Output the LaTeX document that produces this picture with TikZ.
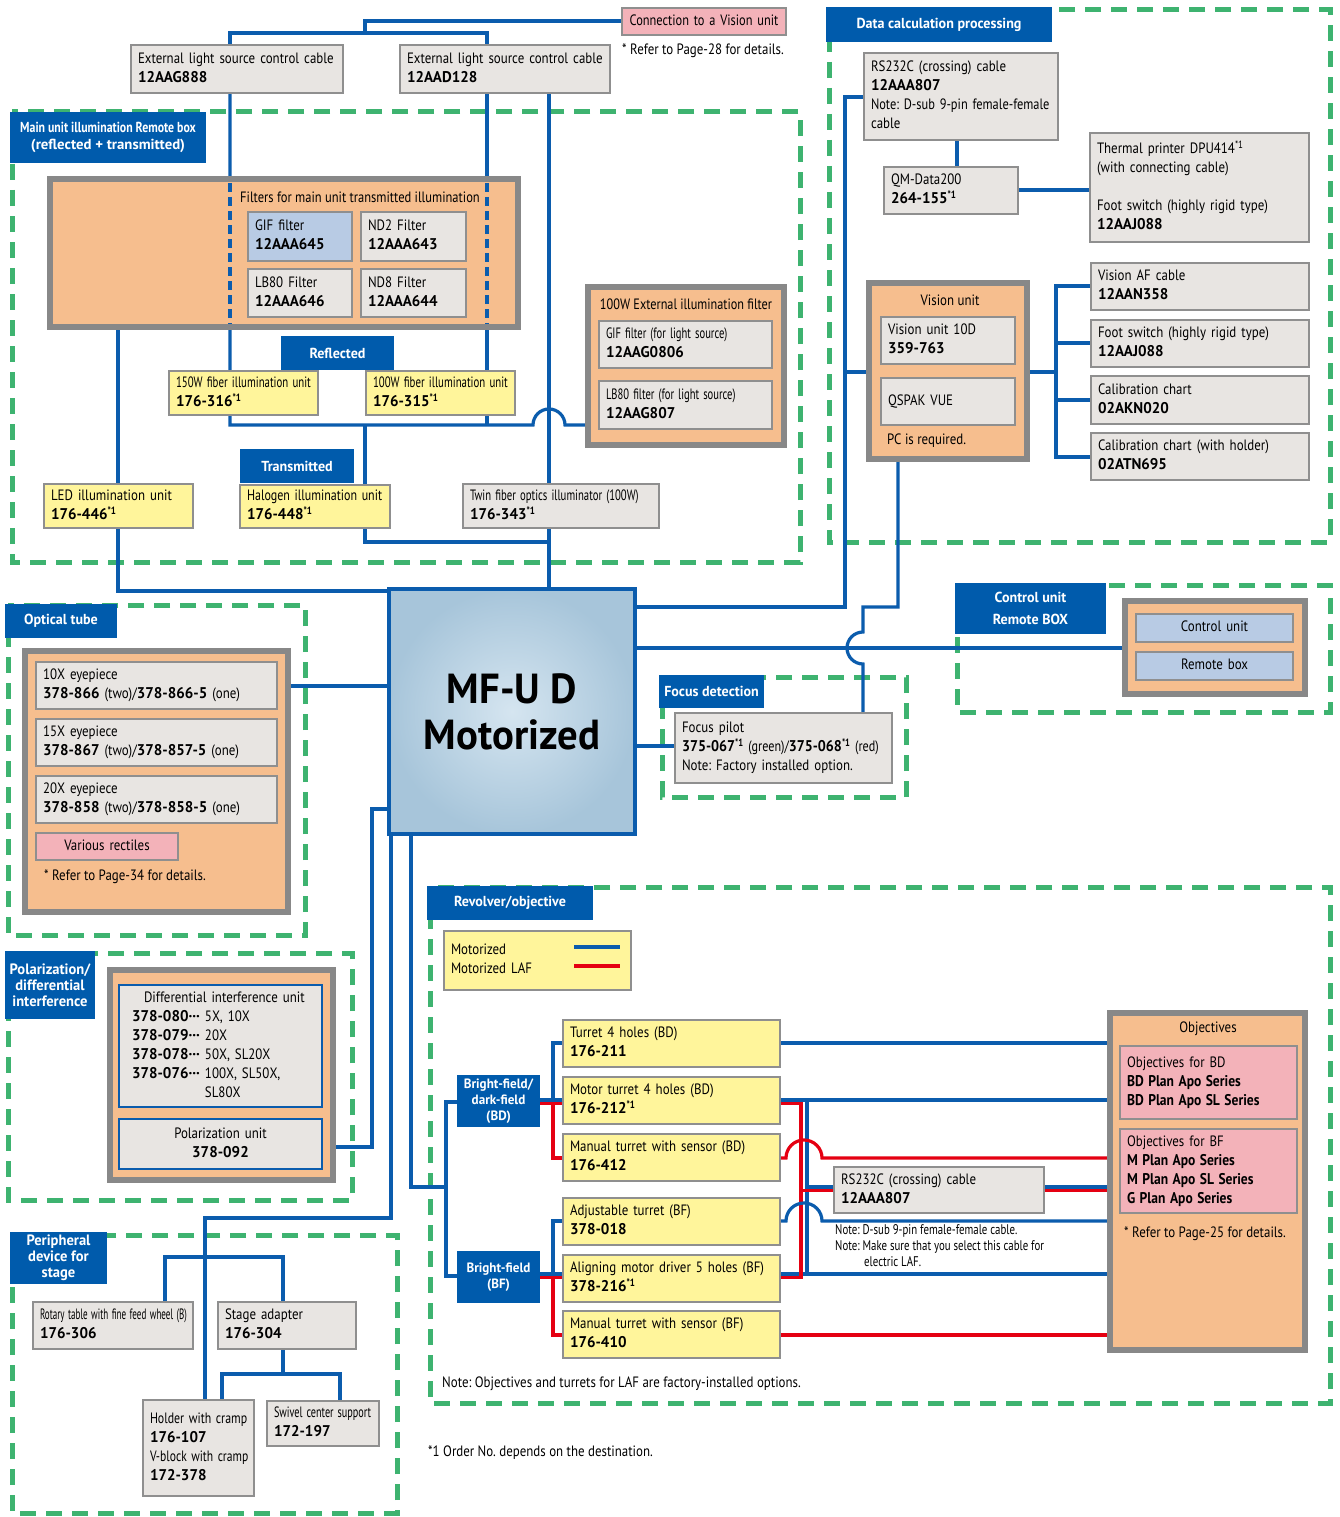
\documentclass[tikz,border=0pt]{standalone}
\usepackage{fontspec}
\usepackage{graphicx}
\setmainfont{PT Sans}[FakeStretch=0.86]
\newfontfamily\numfont{PT Sans}[FakeStretch=0.97]
\definecolor{blu}{HTML}{0B5CAD}
\definecolor{tblu}{HTML}{005BAC}
\definecolor{grn}{HTML}{3EB370}
\definecolor{gfill}{HTML}{E8E5E2}
\definecolor{gbord}{HTML}{8F8F8F}
\definecolor{yfill}{HTML}{FFF59B}
\definecolor{ofill}{HTML}{F6BE8E}
\definecolor{obord}{HTML}{888888}
\definecolor{pfill}{HTML}{F3B2B9}
\definecolor{lbfill}{HTML}{B8CBE4}
\definecolor{rd}{HTML}{E50012}
\definecolor{mainin}{HTML}{D5E5F0}
\definecolor{mainout}{HTML}{A7C5DA}
\newcommand\B[1]{{\fontsize{15.5}{19}\selectfont\numfont\bfseries #1}}
\newcommand\sone{\textsuperscript{\bfseries *1}}
\newcommand\mkbox[7]{%
  \pgfmathsetmacro\mkw{#5-#3}%
  \pgfmathsetmacro\mkh{#6-#4}%
  \pgfmathsetmacro\mkt{#5-#3-14}%
  \node[anchor=north west,minimum width=\mkw pt,minimum height=\mkh pt,
        text width=\mkt pt,inner xsep=7pt,inner ysep=0pt,outer sep=0pt,
        align=left,#2] (#1) at (#3,-#4) {\begin{tabular}{@{}l@{}}#7\end{tabular}};}
\newcommand\mktitle[7]{%
  \pgfmathsetmacro\mkw{#5-#3}%
  \pgfmathsetmacro\mkh{#6-#4}%
  \node[ttl,anchor=north west,minimum width=\mkw pt,minimum height=\mkh pt,
        inner sep=0pt,outer sep=0pt,#2] (#1) at (#3,-#4) {#7};}
\tikzset{
  region/.style={draw=grn,line width=5pt,dash pattern=on 16pt off 10pt},
  ttl/.style={fill=tblu,draw=none,text=white,align=center,
      font=\fontsize{14.5}{16.5}\selectfont\numfont\bfseries},
  gb/.style={fill=gfill,draw=gbord,line width=2pt},
  yb/.style={fill=yfill,draw=gbord,line width=2pt},
  pb/.style={fill=pfill,draw=gbord,line width=2pt},
  lb/.style={fill=lbfill,draw=gbord,line width=2pt},
  ob/.style={fill=ofill,draw=obord,line width=6pt},
  db/.style={fill=gfill,draw=blu,line width=2.5pt},
  wire/.style={draw=blu,line width=3.2pt},
  rwire/.style={draw=rd,line width=3.2pt},
  fdash/.style={draw=blu,line width=3.2pt,dash pattern=on 9pt off 5pt},
  lbl/.style={inner sep=0pt,anchor=west},
}
\begin{document}
\frenchspacing
\begin{tikzpicture}[x=1pt,y=1pt,every node/.style={font=\fontsize{15}{19}\selectfont}]
\useasboundingbox (0,0) rectangle (1340,-1517);
\fill[white] (0,0) rectangle (1340,-1517);

% ---------- regions
\draw[region] (12,-112) rectangle (800,-562);
\draw[region] (829,-10) rectangle (1330,-542);
\draw[region] (957,-585) rectangle (1330,-712);
\draw[region] (662,-677) rectangle (906,-797);
\draw[region] (8,-605) rectangle (305,-935);
\draw[region] (8,-953) rectangle (352,-1200);
\draw[region] (12,-1235) rectangle (397,-1513);
\draw[region] (430,-887) rectangle (1330,-1403);

% ---------- wires
\draw[wire] (230,-45) -- (230,-33) -- (487,-33) -- (487,-45);
\draw[wire] (365,-33) -- (365,-21) -- (622,-21);
\draw[wire] (230,-93) -- (230,-425) -- (533,-425) arc (180:0:16) -- (588,-425);
\draw[wire] (487,-93) -- (487,-425);
\draw[wire] (365,-425) -- (365,-542) -- (549,-542);
\draw[wire] (549,-93) -- (549,-587);
\draw[wire] (118,-327) -- (118,-591) -- (387,-591);
\draw[wire] (633,-607) -- (845,-607) -- (845,-97) -- (864,-97);
\draw[wire] (845,-372) -- (869,-372);
\draw[wire] (1027,-372) -- (1056,-372);
\draw[wire] (1091,-286) -- (1056,-286) -- (1056,-457) -- (1091,-457);
\draw[wire] (1056,-343) -- (1091,-343);
\draw[wire] (1056,-400) -- (1091,-400);
\draw[wire] (957,-140) -- (957,-167);
\draw[wire] (1018,-190) -- (1090,-190);
\draw[wire] (898,-459) -- (898,-607) -- (863,-607) -- (863,-632) arc (90:270:16) -- (863,-713);
\draw[wire] (633,-648) -- (1125,-648);
\draw[wire] (633,-746) -- (675,-746);
\draw[wire] (288,-686) -- (387,-686);
\draw[wire] (322,-1147) -- (372,-1147) -- (372,-809) -- (387,-809);
\draw[wire] (391,-832) -- (391,-1218) -- (205,-1218) -- (205,-1400);
\draw[wire] (165,-1302) -- (165,-1257) -- (283,-1257) -- (283,-1302);
\draw[wire] (283,-1349) -- (283,-1374);
\draw[wire] (222,-1400) -- (222,-1374) -- (340,-1374) -- (340,-1401);
\draw[wire] (411,-832) -- (411,-1187) -- (446,-1187);
\draw[wire] (457,-1102) -- (446,-1102) -- (446,-1276) -- (457,-1276);
\draw[wire] (221,-1107) -- (221,-1119);
% revolver tree
\draw[wire] (540,-1100) -- (563,-1100);
\draw[wire] (563,-1043) -- (553,-1043) -- (553,-1100);
\draw[rwire] (540,-1103.5) -- (563,-1103.5);
\draw[rwire] (553,-1103.5) -- (553,-1158) -- (563,-1158);
\draw[wire] (540,-1274) -- (563,-1274);
\draw[wire] (563,-1221) -- (553,-1221) -- (553,-1274);
\draw[rwire] (540,-1277.5) -- (563,-1277.5);
\draw[rwire] (553,-1277.5) -- (553,-1335) -- (563,-1335);
\draw[wire] (780,-1043) -- (1110,-1043);
\draw[wire] (780,-1100) -- (1110,-1100);
\draw[wire] (807,-1100) -- (807,-1274);
\draw[wire] (780,-1274) -- (1110,-1274);
\draw[rwire] (780,-1103.5) -- (801,-1103.5) -- (801,-1277.5) -- (780,-1277.5);
\draw[wire] (807,-1187) -- (834,-1187);
\draw[rwire] (801,-1190.5) -- (834,-1190.5);
\draw[wire] (1044,-1187) -- (1110,-1187);
\draw[rwire] (1044,-1190.5) -- (1110,-1190.5);
\draw[rwire] (780,-1158) -- (786,-1158) arc (180:0:18) -- (1110,-1158);
\draw[wire] (780,-1221) -- (786,-1221) arc (180:0:18) -- (1110,-1221);
\draw[rwire] (780,-1335) -- (1110,-1335);

% ---------- top cables
\mkbox{cab1}{gb}{131}{45}{343}{93}{External light source control cable\\\B{12AAG888}}
\mkbox{cab2}{gb}{400}{45}{610}{93}{External light source control cable\\\B{12AAD128}}
\mkbox{conn}{pb,align=center}{622}{8}{786}{35}{\scalebox{0.96}[1]{Connection to a Vision unit}}
\node[lbl] (ref28) at (622,-51) {* Refer to Page-28 for details.};

% ---------- main unit illumination
\mktitle{mtitle}{}{10}{112}{206}{163}{\scalebox{0.84}[1]{Main unit illumination Remote box}\\\scalebox{1.05}[1]{(reflected + transmitted)}}
\mkbox{remote}{ob}{50}{179}{518}{327}{}
\draw[fdash] (230,-183) -- (230,-324);
\draw[fdash] (487,-183) -- (487,-324);
\node[lbl] (filt) at (240,-197) {\scalebox{0.97}[1]{Filters for main unit transmitted illumination}};
\mkbox{gif}{lb}{248}{212}{352}{261}{GIF filter\\\B{12AAA645}}
\mkbox{nd2}{gb}{361}{212}{466}{261}{ND2 Filter\\\B{12AAA643}}
\mkbox{lbe}{gb}{248}{269}{352}{317}{LB80 Filter\\\B{12AAA646}}
\mkbox{nd8}{gb}{361}{269}{466}{317}{ND8 Filter\\\B{12AAA644}}
\mktitle{refl}{}{281}{336}{394}{370}{Reflected}
\mkbox{f150}{yb}{169}{371}{318}{415}{\scalebox{0.84}[1]{150W fiber illumination unit}\\\B{176-316}\sone}
\mkbox{f100}{yb}{366}{371}{515}{415}{\scalebox{0.84}[1]{100W fiber illumination unit}\\\B{176-315}\sone}
\mktitle{trans}{}{240}{449}{354}{483}{Transmitted}
\mkbox{led}{yb}{44}{484}{193}{528}{LED illumination unit\\\B{176-446}\sone}
\mkbox{halo}{yb}{240}{485}{390}{528}{\scalebox{0.93}[1]{Halogen illumination unit}\\\B{176-448}\sone}
\mkbox{twin}{gb}{463}{484}{659}{528}{\scalebox{0.83}[1]{Twin fiber optics illuminator (100W)}\\\B{176-343}\sone}
\mkbox{extf}{ob}{588}{287}{784}{445}{}
\node (extft) at (686,-304) {\scalebox{0.95}[1]{100W External illumination filter}};
\mkbox{gif2}{gb}{599}{321}{772}{368}{\scalebox{0.82}[1]{GIF filter (for light source)}\\\B{12AAG0806}}
\mkbox{lb2}{gb}{599}{381}{772}{429}{\scalebox{0.82}[1]{LB80 filter (for light source)}\\\B{12AAG807}}

% ---------- data calculation
\mktitle{dtitle}{}{826}{7}{1052}{42}{Data calculation processing}
\mkbox{rs1}{gb}{864}{53}{1058}{140}{RS232C (crossing) cable\\\B{12AAA807}\\\scalebox{0.96}[1]{Note: D-sub 9-pin female-female}\\cable}
\mkbox{qm}{gb}{884}{167}{1018}{214}{QM-Data200\\\B{264-155}\sone}
\mkbox{therm}{gb}{1090}{133}{1309}{242}{Thermal printer DPU414\textsuperscript{*1}\\(with connecting cable)\\[19pt]Foot switch (highly rigid type)\\\B{12AAJ088}}
\mkbox{vis}{ob}{869}{283}{1027}{459}{}
\node (vist) at (950,-300) {Vision unit};
\mkbox{v10}{gb}{881}{317}{1015}{364}{Vision unit 10D\\\B{359-763}}
\mkbox{qs}{gb}{881}{378}{1015}{425}{QSPAK VUE}
\node[lbl] (pcr) at (887,-441) {PC is required.};
\mkbox{vaf}{gb}{1091}{263}{1309}{310}{Vision AF cable\\\B{12AAN358}}
\mkbox{fs2}{gb}{1091}{320}{1309}{367}{Foot switch (highly rigid type)\\\B{12AAJ088}}
\mkbox{cal1}{gb}{1091}{376}{1309}{424}{Calibration chart\\\B{02AKN020}}
\mkbox{cal2}{gb}{1091}{433}{1309}{480}{Calibration chart (with holder)\\\B{02ATN695}}

% ---------- main unit
\node[draw=blu,line width=4pt,inner color=mainin,outer color=mainout,
      minimum width=246pt,minimum height=245pt,anchor=north west,align=center,
      font=\fontsize{42}{46}\selectfont\numfont\bfseries] (main) at (387,-587) {MF-U D\\Motorized};

% ---------- control unit
\mktitle{ctitle}{}{955}{583}{1106}{634}{Control unit\\[5pt]Remote BOX}
\mkbox{cbox}{ob}{1125}{601}{1305}{694}{}
\mkbox{cu}{lb,align=center}{1136}{614}{1293}{642}{Control unit}
\mkbox{rb}{lb,align=center}{1136}{652}{1293}{680}{Remote box}

% ---------- focus detection
\mktitle{ftitle}{}{659}{675}{764}{708}{Focus detection}
\mkbox{fp}{gb}{675}{713}{892}{783}{Focus pilot\\\scalebox{0.94}[1]{\B{375-067}\sone{} (green)/\B{375-068}\sone{} (red)}\\Note: Factory installed option.}

% ---------- optical tube
\mktitle{otitle}{}{5}{604}{117}{638}{Optical tube}
\mkbox{obox}{ob}{25}{651}{288}{912}{}
\mkbox{e10}{gb}{36}{662}{277}{709}{10X eyepiece\\\B{378-866} (two)/\B{378-866-5} (one)}
\mkbox{e15}{gb}{36}{719}{277}{766}{15X eyepiece\\\B{378-867} (two)/\B{378-857-5} (one)}
\mkbox{e20}{gb}{36}{776}{277}{823}{20X eyepiece\\\B{378-858} (two)/\B{378-858-5} (one)}
\mkbox{ret}{pb,align=center}{36}{833}{178}{860}{Various rectiles}
\node[lbl] (r34) at (44,-877) {* Refer to Page-34 for details.};

% ---------- polarization
\mktitle{ptitle}{font=\fontsize{15}{16}\selectfont\numfont\bfseries}{5}{951}{95}{1019}{Polarization/\\differential\\interference}
\mkbox{pbox}{ob}{110}{970}{333}{1180}{}
\mkbox{diu}{db}{119}{985}{322}{1107}{\hspace*{6pt}\begin{tabular}{@{}l@{ }l@{}}\multicolumn{2}{@{}l@{}}{\hspace*{12pt}Differential interference unit}\\ \B{378-080···} & 5X, 10X\\ \B{378-079···} & 20X\\ \B{378-078···} & 50X, SL20X\\ \B{378-076···} & 100X, SL50X,\\ & SL80X\end{tabular}}
\mkbox{pol}{db,align=center}{119}{1119}{322}{1169}{\begin{tabular}{@{}c@{}}Polarization unit\\\B{378-092}\end{tabular}}

% ---------- peripheral
\mktitle{pertitle}{font=\fontsize{15}{16}\selectfont\numfont\bfseries}{10}{1232}{107}{1284}{Peripheral\\device for\\stage}
\mkbox{rot}{gb}{33}{1302}{193}{1349}{\scalebox{0.7}[1]{Rotary table with fine feed wheel (B)}\\\B{176-306}}
\mkbox{stad}{gb}{218}{1302}{356}{1349}{Stage adapter\\\B{176-304}}
\mkbox{hold}{gb}{143}{1400}{254}{1496}{\scalebox{0.92}[1]{Holder with cramp}\\\B{176-107}\\\scalebox{0.9}[1]{V-block with cramp}\\\B{172-378}}
\mkbox{swiv}{gb}{267}{1401}{379}{1446}{\scalebox{0.79}[1]{Swivel center support}\\\B{172-197}}

% ---------- revolver / objective
\mktitle{rtitle}{}{427}{886}{593}{920}{Revolver/objective}
\mkbox{leg}{yb}{444}{931}{631}{990}{Motorized\\Motorized LAF}
\draw[wire] (574,-947) -- (620,-947);
\draw[rwire] (574,-966) -- (620,-966);
\mktitle{bdt}{font=\fontsize{13.5}{16}\selectfont\numfont\bfseries}{457}{1075}{540}{1127}{Bright-field/\\dark-field\\(BD)}
\mktitle{bft}{font=\fontsize{13.5}{16}\selectfont\numfont\bfseries}{457}{1251}{540}{1303}{Bright-field\\(BF)}
\mkbox{t1}{yb}{563}{1020}{780}{1067}{Turret 4 holes (BD)\\\B{176-211}}
\mkbox{t2}{yb}{563}{1077}{780}{1124}{Motor turret 4 holes (BD)\\\B{176-212}\sone}
\mkbox{t3}{yb}{563}{1134}{780}{1181}{Manual turret with sensor (BD)\\\B{176-412}}
\mkbox{t4}{yb}{563}{1198}{780}{1245}{Adjustable turret (BF)\\\B{378-018}}
\mkbox{t5}{yb}{563}{1255}{780}{1302}{Aligning motor driver 5 holes (BF)\\\B{378-216}\sone}
\mkbox{t6}{yb}{563}{1311}{780}{1358}{Manual turret with sensor (BF)\\\B{176-410}}
\mkbox{rs2}{gb}{834}{1167}{1044}{1213}{RS232C (crossing) cable\\\B{12AAA807}}
\node[inner sep=0pt,anchor=north west,align=left,font=\fontsize{14}{16}\selectfont] (rsnote) at (835,-1224) {\scalebox{0.9}[1]{Note: D-sub 9-pin female-female cable.}\\\scalebox{0.9}[1]{Note: Make sure that you select this cable for}\\\hspace*{29pt}\scalebox{0.9}[1]{electric LAF.}};
\mkbox{objb}{ob}{1110}{1013}{1305}{1350}{}
\node (objt) at (1208,-1029) {Objectives};
\mkbox{obd}{pb}{1120}{1046}{1297}{1119}{Objectives for BD\\\scalebox{0.9}[1]{\B{BD Plan Apo Series}}\\\scalebox{0.9}[1]{\B{BD Plan Apo SL Series}}}
\mkbox{obf}{pb}{1120}{1129}{1297}{1213}{Objectives for BF\\\scalebox{0.9}[1]{\B{M Plan Apo Series}}\\\scalebox{0.9}[1]{\B{M Plan Apo SL Series}}\\\scalebox{0.9}[1]{\B{G Plan Apo Series}}}
\node[lbl] (r25) at (1124,-1234) {* Refer to Page-25 for details.};
\node[lbl] (nlaf) at (442,-1384) {Note: Objectives and turrets for LAF are factory-installed options.};
\node[lbl] (fn) at (428,-1453) {*1 Order No. depends on the destination.};
\end{tikzpicture}
\end{document}
